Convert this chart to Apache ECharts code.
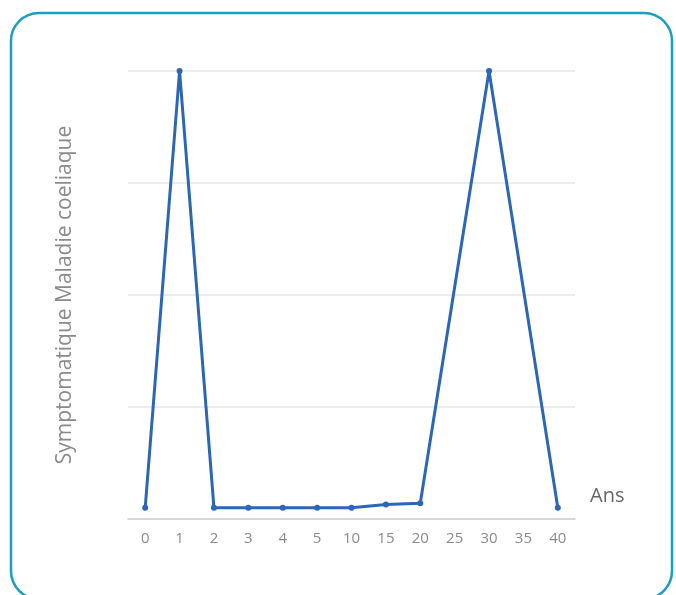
<!DOCTYPE html>
<html>
<head>
<meta charset="utf-8">
<script src="https://cdn.jsdelivr.net/npm/echarts@6/dist/echarts.min.js"></script>
<style>
html,body{margin:0;padding:0;background:#fff;}
#chart{width:676px;height:595px;}
</style>
</head>
<body>
<div id="chart"></div>
<script>
var categories = ['0','1','2','3','4','5','10','15','20','25','30','35','40'];
var values = [0.1, 4, 0.1, 0.1, 0.1, 0.1, 0.1, 0.13, 0.14, null, 4, null, 0.1];
var xName = 'Ans';
var yName = 'Symptomatique Maladie coeliaque';

var chart = echarts.init(document.getElementById('chart'));
chart.setOption({
  animation: false,
  textStyle: { fontFamily: 'Open Sans' },
  graphic: [{
    type: 'rect',
    shape: { x: 11, y: 13, width: 661, height: 586, r: 28 },
    style: { fill: 'none', stroke: '#1b9fc0', lineWidth: 2.5 },
    silent: true
  }],
  grid: { left: 128, right: 101, top: 71, bottom: 76 },
  xAxis: {
    type: 'category',
    data: categories,
    boundaryGap: true,
    name: xName,
    nameLocation: 'end',
    nameGap: 15,
    nameTextStyle: { color: '#666', fontSize: 20, verticalAlign: 'bottom', padding: [0, 0, 13, 0] },
    axisLine: { lineStyle: { color: '#cfcfcf', width: 1.5 } },
    axisTick: { show: false },
    axisLabel: { color: '#8a8a8a', fontSize: 15, margin: 12 },
    splitLine: { show: false }
  },
  yAxis: {
    type: 'value',
    min: 0,
    max: 4,
    interval: 1,
    name: yName,
    nameLocation: 'middle',
    nameGap: 52,
    nameTextStyle: { color: '#8a8a8a', fontSize: 21 },
    axisLine: { show: false },
    axisTick: { show: false },
    axisLabel: { show: false },
    splitLine: { lineStyle: { color: '#e6e6e6', width: 1.5 } }
  },
  series: [{
    type: 'line',
    data: values,
    connectNulls: true,
    symbol: 'circle',
    symbolSize: 6,
    lineStyle: { color: '#2b66b9', width: 3 },
    itemStyle: { color: '#2b66b9' }
  }]
});
</script>
</body>
</html>
